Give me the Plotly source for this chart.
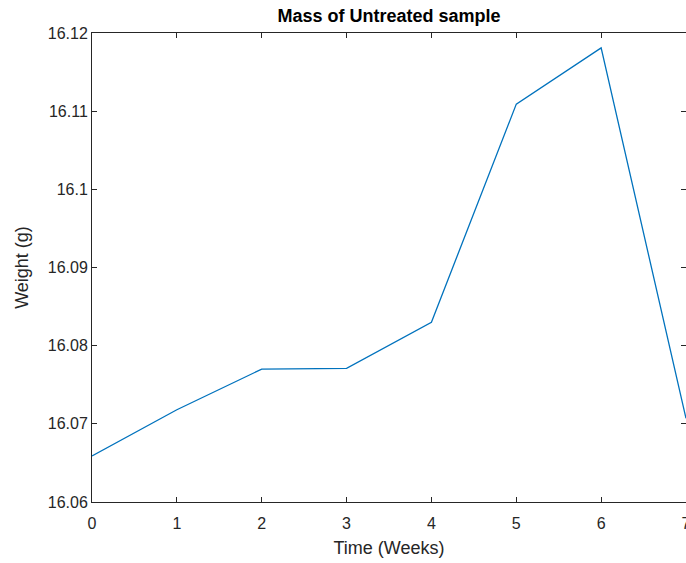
import plotly.graph_objects as go

weeks = [0, 1, 2, 3, 4, 5, 6, 7]
weight = [16.0659, 16.0718, 16.0770, 16.0771, 16.0830, 16.1109, 16.1181, 16.0707]

y_ticks = [16.06, 16.07, 16.08, 16.09, 16.10, 16.11, 16.12]
y_labels = ["16.06", "16.07", "16.08", "16.09", "16.1", "16.11", "16.12"]

axis_col = "#262626"
font = "Liberation Sans, Arial, Helvetica, sans-serif"

fig = go.Figure()
fig.add_trace(go.Scatter(x=weeks, y=weight, mode="lines",
                         line=dict(color="#0072BD", width=1.3)))

fig.update_layout(
    width=686, height=563,
    margin=dict(l=92, r=0, t=33, b=61, autoexpand=False),
    paper_bgcolor="white", plot_bgcolor="white",
    showlegend=False,
    font=dict(family=font, size=16, color=axis_col),
    title=dict(text="<b>Mass of Untreated sample</b>", x=0.567, xanchor="center",
               y=0.972, yanchor="middle", font=dict(size=18, color="black")),
)
fig.update_xaxes(
    range=[0, 7], tickmode="array", tickvals=weeks,
    ticks="inside", ticklen=5, tickcolor=axis_col,
    ticklabelstandoff=7, ticklabeloverflow="allow", automargin=False,
    showline=True, linecolor=axis_col, linewidth=1, mirror="ticks",
    showgrid=False, zeroline=False,
    title=dict(text="Time (Weeks)", standoff=10, font=dict(size=18)),
)
fig.update_yaxes(
    range=[16.06, 16.12], tickmode="array", tickvals=y_ticks, ticktext=y_labels,
    ticks="inside", ticklen=5, tickcolor=axis_col, automargin=False,
    showline=True, linecolor=axis_col, linewidth=1, mirror="ticks",
    showgrid=False, zeroline=False,
    title=dict(text="Weight (g)", standoff=14, font=dict(size=18)),
)

# drop the page's default body margin so the figure sits at the window corner
fig.write_html("out.html", config={"displayModeBar": False},
               post_script="document.body.style.margin='0';")
